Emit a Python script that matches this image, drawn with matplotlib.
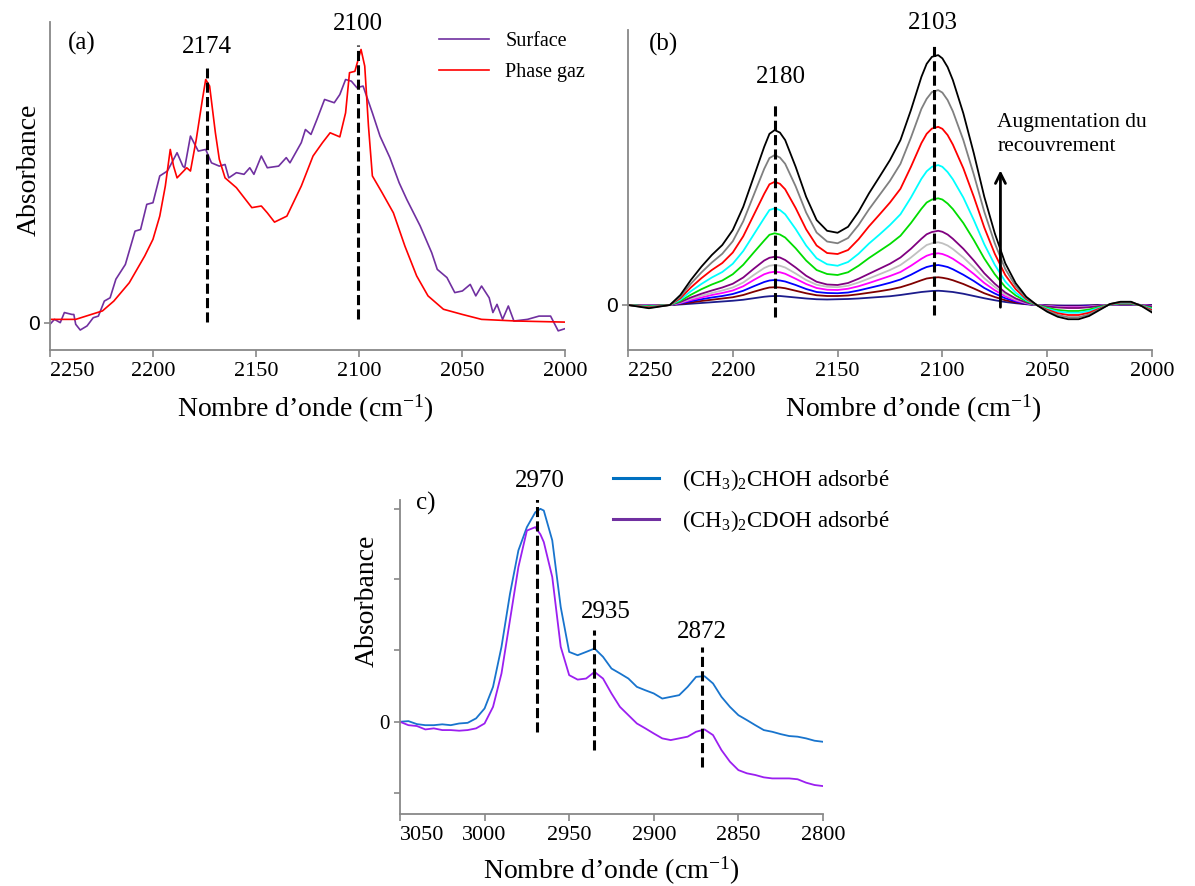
import matplotlib.pyplot as plt
from matplotlib.lines import Line2D

plt.rcParams['font.family'] = 'Liberation Serif'
plt.rcParams['mathtext.fontset'] = 'custom'
plt.rcParams['mathtext.rm'] = 'Liberation Serif'
plt.rcParams['mathtext.it'] = 'Liberation Serif:italic'

# ---------------- panel (a) ----------------
wn_gaz = [2250, 2237.5, 2224.5, 2219, 2211.5, 2204, 2200, 2196.7, 2194, 2191.6, 2190, 2188.3,
          2183.6, 2181.8, 2179, 2176, 2174.4, 2172.5, 2169.7, 2167.8, 2165, 2159.5, 2152,
          2147.4, 2144.5, 2141, 2135, 2128, 2122.3, 2117.7, 2114, 2109.3, 2106.5, 2104.6,
          2102, 2099, 2097.2, 2095.4, 2093.5, 2088.8, 2083.3, 2077.7, 2072, 2066.5, 2059,
          2049.8, 2040.5, 2023.8, 2000]
abs_gaz = [0.012, 0.012, 0.043, 0.079, 0.146, 0.244, 0.305, 0.39, 0.5, 0.634, 0.573, 0.53,
           0.567, 0.555, 0.67, 0.817, 0.89, 0.866, 0.695, 0.598, 0.53, 0.494, 0.421,
           0.427, 0.402, 0.368, 0.39, 0.5, 0.61, 0.659, 0.695, 0.68, 0.768, 0.915,
           0.92, 1.0, 0.939, 0.72, 0.537, 0.476, 0.402, 0.28, 0.171, 0.098, 0.049,
           0.03, 0.012, 0.006, 0.002]

wn_surf = [2250, 2247.8, 2245, 2243, 2239.3, 2238.4, 2237.5, 2235.3, 2232, 2229, 2226.5, 2223.6,
           2220.8, 2218, 2213.4, 2208.7, 2206, 2203, 2200, 2196.7, 2193, 2188.3, 2185.5,
           2184.6, 2181.8, 2178, 2174.4, 2171.6, 2167.8, 2165, 2163.2, 2159.5, 2155.8, 2153,
           2151, 2147.4, 2144.5, 2139, 2135.3, 2133.5, 2128, 2126, 2123.3, 2120.4, 2116.7,
           2112, 2109.3, 2106.5, 2103.7, 2101, 2098, 2093.5, 2089.8, 2085, 2080.5, 2076.8,
           2070.3, 2064.7, 2062, 2057.3, 2053.5, 2049.8, 2046, 2043.3, 2040.5, 2036.8, 2035,
           2033, 2030.3, 2027.5, 2024.8, 2018.2, 2012.6, 2007, 2003.3, 2000]
abs_surf = [-0.006, 0.012, 0.0, 0.037, 0.03, 0.03, -0.006, -0.027, -0.012, 0.018, 0.024, 0.079,
            0.091, 0.159, 0.213, 0.335, 0.341, 0.433, 0.439, 0.537, 0.555, 0.622, 0.573,
            0.567, 0.683, 0.628, 0.634, 0.585, 0.573, 0.579, 0.53, 0.549, 0.543, 0.567,
            0.543, 0.61, 0.567, 0.573, 0.604, 0.585, 0.659, 0.707, 0.689, 0.744, 0.817,
            0.805, 0.835, 0.89, 0.884, 0.86, 0.866, 0.768, 0.683, 0.604, 0.512, 0.451,
            0.354, 0.256, 0.195, 0.165, 0.110, 0.116, 0.140, 0.098, 0.134, 0.091, 0.037,
            0.067, 0.012, 0.061, 0.006, 0.012, 0.024, 0.024, -0.030, -0.022]

# ---------------- panel (b) ----------------
wn_b = [2250, 2240, 2230, 2225, 2220, 2215, 2210, 2205, 2200, 2195, 2190, 2185, 2182.5, 2180,
        2177.5, 2175, 2170, 2165, 2160, 2155, 2150, 2145, 2140, 2135, 2130, 2125, 2120, 2115,
        2110, 2107.5, 2105, 2102, 2100, 2097.5, 2095, 2090, 2085, 2080, 2075, 2070, 2065,
        2060, 2055, 2050, 2045, 2040, 2035, 2030, 2025, 2020, 2015, 2010, 2005, 2000]
b_black = [0, -0.013, 0, 0.04, 0.10, 0.153, 0.20, 0.24, 0.30, 0.393, 0.513, 0.633, 0.685, 0.70,
           0.69, 0.66, 0.553, 0.433, 0.34, 0.297, 0.289, 0.313, 0.373, 0.447, 0.513, 0.58, 0.66,
           0.78, 0.913, 0.965, 0.993, 1.0, 0.987, 0.952, 0.9, 0.767, 0.607, 0.433, 0.287, 0.167,
           0.087, 0.033, 0, -0.027, -0.047, -0.057, -0.057, -0.044, -0.02, 0.004, 0.013, 0.013,
           -0.004, -0.03]
b_gray = [0, -0.011, 0, 0.033, 0.085, 0.13, 0.17, 0.205, 0.255, 0.335, 0.44, 0.545, 0.588, 0.60,
          0.59, 0.565, 0.475, 0.37, 0.29, 0.254, 0.247, 0.268, 0.32, 0.383, 0.44, 0.497, 0.565,
          0.67, 0.785, 0.825, 0.852, 0.86, 0.85, 0.82, 0.775, 0.66, 0.522, 0.373, 0.247, 0.144,
          0.075, 0.028, 0, -0.023, -0.04, -0.049, -0.049, -0.038, -0.017, 0.004, 0.012, 0.012,
          -0.003, -0.025]
b_red = [0, -0.009, 0, 0.027, 0.07, 0.107, 0.14, 0.168, 0.21, 0.275, 0.36, 0.445, 0.483, 0.493,
         0.485, 0.463, 0.388, 0.303, 0.238, 0.208, 0.204, 0.22, 0.263, 0.315, 0.362, 0.41, 0.465,
         0.553, 0.648, 0.685, 0.706, 0.713, 0.705, 0.68, 0.642, 0.547, 0.433, 0.31, 0.205, 0.12,
         0.063, 0.024, 0, -0.019, -0.033, -0.04, -0.04, -0.031, -0.014, 0.003, 0.01, 0.01,
         -0.003, -0.02]
b_cyan = [0, -0.007, 0, 0.021, 0.055, 0.084, 0.11, 0.132, 0.165, 0.216, 0.282, 0.348, 0.38, 0.387,
          0.38, 0.363, 0.304, 0.238, 0.187, 0.163, 0.157, 0.172, 0.205, 0.246, 0.282, 0.32, 0.363,
          0.43, 0.505, 0.535, 0.553, 0.56, 0.553, 0.532, 0.503, 0.43, 0.34, 0.243, 0.161, 0.094,
          0.049, 0.019, 0, -0.015, -0.026, -0.031, -0.031, -0.024, -0.011, 0.002, 0.008, 0.008,
          -0.002, -0.016]
b_green = [0, -0.005, 0, 0.016, 0.041, 0.063, 0.082, 0.098, 0.123, 0.161, 0.21, 0.258, 0.281, 0.287,
           0.282, 0.27, 0.227, 0.178, 0.14, 0.124, 0.12, 0.131, 0.157, 0.188, 0.216, 0.244, 0.277,
           0.328, 0.385, 0.41, 0.422, 0.427, 0.422, 0.406, 0.384, 0.328, 0.26, 0.186, 0.123, 0.072,
           0.038, 0.015, 0, -0.011, -0.02, -0.024, -0.024, -0.018, -0.008, 0.002, 0.006, 0.006,
           -0.002, -0.012]
b_purple = [0, -0.003, 0, 0.012, 0.03, 0.045, 0.058, 0.07, 0.085, 0.11, 0.145, 0.178, 0.189, 0.193,
            0.19, 0.18, 0.15, 0.117, 0.093, 0.082, 0.08, 0.088, 0.105, 0.125, 0.145, 0.165, 0.19,
            0.225, 0.265, 0.283, 0.292, 0.297, 0.293, 0.282, 0.265, 0.225, 0.178, 0.127, 0.085,
            0.05, 0.026, 0.01, 0, -0.006, -0.01, -0.012, -0.012, -0.009, -0.004, 0.001, 0.004,
            0.004, 0, -0.006]
b_silver = [0, -0.002, 0, 0.01, 0.025, 0.037, 0.048, 0.058, 0.07, 0.09, 0.12, 0.148, 0.157, 0.16,
            0.157, 0.15, 0.126, 0.1, 0.081, 0.073, 0.071, 0.077, 0.09, 0.106, 0.123, 0.14, 0.16,
            0.19, 0.224, 0.24, 0.247, 0.251, 0.247, 0.238, 0.224, 0.19, 0.15, 0.107, 0.072, 0.042,
            0.022, 0.008, 0, -0.005, -0.008, -0.01, -0.01, -0.007, -0.003, 0.001, 0.003, 0.003,
            0, -0.005]
b_magenta = [0, -0.002, 0, 0.008, 0.02, 0.03, 0.04, 0.048, 0.058, 0.075, 0.1, 0.123, 0.13, 0.133,
             0.131, 0.125, 0.105, 0.084, 0.068, 0.061, 0.06, 0.065, 0.075, 0.088, 0.102, 0.116,
             0.132, 0.157, 0.185, 0.197, 0.204, 0.207, 0.204, 0.196, 0.185, 0.157, 0.124, 0.088,
             0.059, 0.035, 0.018, 0.007, 0, -0.004, -0.007, -0.008, -0.008, -0.006, -0.003, 0.001,
             0.003, 0.003, 0, -0.004]
b_blue = [0, -0.001, 0, 0.006, 0.015, 0.023, 0.03, 0.036, 0.044, 0.057, 0.075, 0.092, 0.098, 0.1,
          0.098, 0.094, 0.08, 0.064, 0.052, 0.048, 0.047, 0.05, 0.058, 0.068, 0.078, 0.089, 0.102,
          0.121, 0.143, 0.152, 0.157, 0.16, 0.157, 0.152, 0.143, 0.121, 0.096, 0.068, 0.046,
          0.027, 0.014, 0.005, 0, -0.003, -0.005, -0.006, -0.006, -0.004, -0.002, 0.001, 0.002,
          0.002, 0, -0.003]
b_brown = [0, -0.001, 0, 0.004, 0.01, 0.016, 0.021, 0.026, 0.031, 0.04, 0.053, 0.065, 0.07, 0.071,
           0.07, 0.067, 0.057, 0.047, 0.039, 0.036, 0.036, 0.038, 0.043, 0.049, 0.055, 0.062,
           0.071, 0.084, 0.099, 0.106, 0.109, 0.111, 0.109, 0.105, 0.099, 0.084, 0.066, 0.047,
           0.032, 0.019, 0.01, 0.004, 0, -0.002, -0.003, -0.004, -0.004, -0.003, -0.001, 0,
           0.001, 0.001, 0, -0.002]
b_navy = [0, 0, 0, 0.002, 0.005, 0.008, 0.011, 0.014, 0.017, 0.021, 0.027, 0.033, 0.035, 0.036,
          0.036, 0.034, 0.03, 0.026, 0.023, 0.022, 0.023, 0.024, 0.026, 0.029, 0.032, 0.035, 0.04,
          0.046, 0.052, 0.054, 0.056, 0.057, 0.056, 0.054, 0.052, 0.045, 0.036, 0.027, 0.019,
          0.012, 0.007, 0.003, 0, -0.001, -0.002, -0.002, -0.002, -0.001, 0, 0, 0.001, 0.001,
          0, 0]
b_series = [b_navy, b_brown, b_blue, b_magenta, b_silver, b_purple,
            b_green, b_cyan, b_red, b_gray, b_black]
b_colors = ['#1c1c8c', '#800000', '#0000ff', '#ff00ff', '#c0c0c0', '#800080',
            '#00dd00', '#00ffff', '#ff0000', '#808080', '#000000']

# ---------------- panel (c) ----------------
wn_c = [3050, 3045, 3040, 3035, 3030, 3025, 3020, 3015, 3010, 3005, 3000, 2995, 2990, 2985,
        2980, 2975, 2970, 2967, 2965, 2960, 2955, 2950, 2945, 2940, 2935, 2930, 2925, 2920,
        2915, 2910, 2905, 2900, 2895, 2890, 2885, 2880, 2875, 2870, 2865, 2860, 2855, 2850,
        2845, 2840, 2835, 2830, 2825, 2820, 2815, 2810, 2805, 2800]
c_choh = [0, 0.003, -0.011, -0.016, -0.016, -0.012, -0.016, -0.008, -0.005, 0.016, 0.0625, 0.164,
          0.352, 0.60, 0.805, 0.914, 0.984, 1.0, 0.992, 0.852, 0.539, 0.328, 0.3125, 0.328,
          0.344, 0.305, 0.25, 0.227, 0.203, 0.164, 0.148, 0.133, 0.109, 0.117, 0.125, 0.164,
          0.211, 0.214, 0.18, 0.117, 0.07, 0.031, 0.008, -0.016, -0.039, -0.047, -0.058,
          -0.067, -0.07, -0.078, -0.089, -0.094]
c_cdoh = [0, -0.016, -0.02, -0.036, -0.031, -0.039, -0.039, -0.042, -0.039, -0.031, -0.008, 0.07,
          0.227, 0.477, 0.727, 0.898, 0.914, 0.88, 0.844, 0.68, 0.352, 0.219, 0.198, 0.203,
          0.234, 0.203, 0.133, 0.07, 0.031, -0.008, -0.031, -0.055, -0.078, -0.086, -0.078,
          -0.07, -0.047, -0.036, -0.0625, -0.133, -0.1875, -0.227, -0.242, -0.25, -0.261,
          -0.266, -0.266, -0.266, -0.27, -0.286, -0.297, -0.302]
c_wn_marks = [2969, 2935.6, 2871.6]

grey = '#888888'
dash = (0, (3.3, 1.4))
xlabel = 'Nombre d’onde (cm$^{-1}$)'


def style_axes(ax, xticks, xlim, ylim):
    for s in ['top', 'right']:
        ax.spines[s].set_visible(False)
    for s in ['left', 'bottom']:
        ax.spines[s].set_color(grey)
        ax.spines[s].set_linewidth(1.3)
    ax.set_xlim(xlim)
    ax.set_ylim(ylim)
    ax.set_xticks(xticks)
    ax.set_xticklabels([str(t) for t in xticks])
    ax.tick_params(axis='x', colors=grey, labelcolor='black', labelsize=16, length=5, width=1.2)
    ax.tick_params(axis='y', colors=grey, labelcolor='black', labelsize=15, length=4, width=1.2)
    ax.get_xticklabels()[0].set_horizontalalignment('left')


fig = plt.figure(figsize=(11.95, 8.86), dpi=100)

# (a)
ax1 = fig.add_axes([0.0418, 0.605, 0.431, 0.370])
ax1.plot(wn_surf, abs_surf, color='#7030a0', lw=1.2, label='Surface')
ax1.plot(wn_gaz, abs_gaz, color='#ff0000', lw=1.2, label='Phase gaz')
style_axes(ax1, [2250, 2200, 2150, 2100, 2050, 2000], (2250, 2000), (-0.1, 1.10))
ax1.set_yticks([0])
ax1.set_yticklabels(['0'], family='Liberation Sans')
ax1.vlines([2174, 2100.5], [0.002, 0.012], [0.933, 1.018], colors='black', lw=2.2, linestyles=[dash])
ax1.text(2174, 1.01, '2174', fontsize=18, ha='center', va='center')
ax1.text(2100.5, 1.095, '2100', fontsize=18, ha='center', va='center')
ax1.text(0.062, 0.935, '(a)', fontsize=18, transform=ax1.transAxes, ha='center', va='center')
ax1.set_xlabel(xlabel, fontsize=20)
ax1.xaxis.set_label_coords(0.495, -0.13)
ax1.set_ylabel('Absorbance', fontsize=20)
ax1.yaxis.set_label_coords(-0.016, 0.55)
ax1.legend(loc='upper left', bbox_to_anchor=(0.755, 0.97), frameon=False, fontsize=14.5,
           handlelength=2.5, handletextpad=0.8, labelspacing=0.6, borderaxespad=0, borderpad=0)

# (b)
ax2 = fig.add_axes([0.5255, 0.605, 0.4385, 0.361])
for vals, col in zip(b_series, b_colors):
    ax2.plot(wn_b, vals, color=col, lw=1.3)
style_axes(ax2, [2250, 2200, 2150, 2100, 2050, 2000], (2250, 2000), (-0.18, 1.10))
ax2.set_yticks([0])
ax2.set_yticklabels(['0'], family='Liberation Sans')
ax2.vlines([2180, 2104], [-0.047, -0.04], [0.813, 1.047], colors='black', lw=2.2, linestyles=[dash])
ax2.text(2177, 0.913, '2180', fontsize=18, ha='center', va='center')
ax2.text(2104.5, 1.127, '2103', fontsize=18, ha='center', va='center')
ax2.text(0.067, 0.955, '(b)', fontsize=18, transform=ax2.transAxes, ha='center', va='center')
ax2.annotate('', xy=(2072.3, 0.55), xytext=(2072.3, -0.02),
             arrowprops=dict(arrowstyle='->', color='black', lw=2, mutation_scale=18))
ax2.text(2073.8, 0.77, 'Augmentation du\nrecouvrement', fontsize=15.5, ha='left', va='top',
         linespacing=1.4)
ax2.set_xlabel(xlabel, fontsize=20)
ax2.xaxis.set_label_coords(0.544, -0.135)

# (c)
ax3 = fig.add_axes([0.3347, 0.0813, 0.354, 0.354])
ax3.plot(wn_c, c_choh, color='#1874cd', lw=1.3)
ax3.plot(wn_c, c_cdoh, color='#9b1ff0', lw=1.3)
style_axes(ax3, [3050, 3000, 2950, 2900, 2850, 2800], (3050, 2800), (-0.433, 1.04))
ax3.set_yticks([-0.336, 0, 0.336, 0.672, 1.0])
ax3.set_yticklabels(['', '0', '', '', ''])
ax3.vlines(c_wn_marks, [-0.047, -0.133, -0.211], [1.078, 0.43, 0.352], colors='black', lw=2.2,
           linestyles=[dash])
ax3.text(2967.2, 1.133, '2970', fontsize=18, ha='center', va='center')
ax3.text(2928.2, 0.516, '2935', fontsize=18, ha='center', va='center')
ax3.text(2871.6, 0.42, '2872', fontsize=18, ha='center', va='center')
ax3.text(0.061, 0.99, 'c)', fontsize=18, transform=ax3.transAxes, ha='center', va='center')
ax3.set_xlabel(xlabel, fontsize=20)
ax3.xaxis.set_label_coords(0.50, -0.13)
ax3.set_ylabel('Absorbance', fontsize=20)
ax3.yaxis.set_label_coords(-0.047, 0.68)
handles = [Line2D([], [], color='#0070c0', lw=2.2), Line2D([], [], color='#7030a0', lw=2.2)]
ax3.legend(handles, ['(CH$_3$)$_2$CHOH adsorbé', '(CH$_3$)$_2$CDOH adsorbé'],
           loc='upper left', bbox_to_anchor=(0.503, 1.105), frameon=False, fontsize=16.5,
           handlelength=2.0, handletextpad=1.0, labelspacing=0.65, borderaxespad=0, borderpad=0)

fig.savefig('out.png', dpi=100)
